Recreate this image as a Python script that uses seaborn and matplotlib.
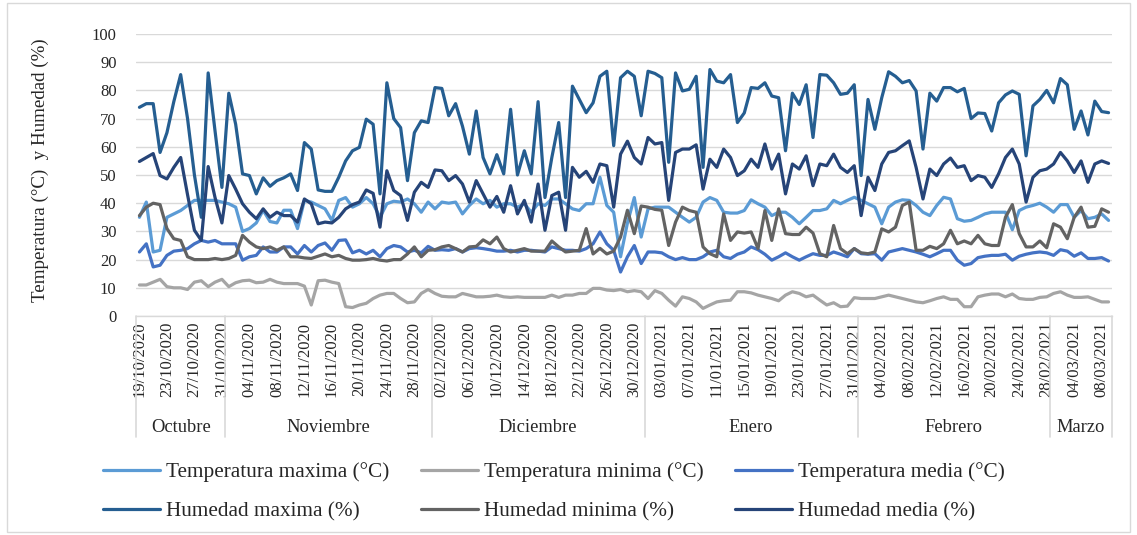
import numpy as np
import pandas as pd
import matplotlib
matplotlib.use("Agg")
import matplotlib.pyplot as plt
import seaborn as sns
from matplotlib.patches import Rectangle
from matplotlib.transforms import blended_transform_factory

# Daily records, 19/10/2020 - 09/03/2021
fechas = pd.date_range("2020-10-19", "2021-03-09", freq="D")
meses = ["Octubre", "Noviembre", "Diciembre", "Enero", "Febrero", "Marzo"]

temp_maxima = [
    35, 40.4, 22.7, 23.3, 35, 36.2, 37.4, 39.2, 41, 41, 41, 41, 40.4, 39.8, 38.6, 30, 31, 33, 37.5, 33.5, 33, 37.5, 37.5, 31,
    41, 40.4, 39.2, 38, 33.9, 41, 42, 38.6, 39.8, 42, 39.8, 35, 39.8, 40.7, 40.4, 41.5, 39.8, 36.8, 40.4, 38, 40.4, 40,
    40.4, 36.2, 39.2, 41.5, 39.8, 41, 38.6, 39.8, 39.8, 38.6, 39.8, 36.8, 39.8, 39.2, 41.5, 41.5, 39.8, 38, 37.4, 39.8, 39.8, 49.2, 39.2, 36.8, 21,
    33, 42, 28, 38, 38.6, 38.6, 38.6, 36.8, 35, 33.3, 35, 40.4, 42, 41, 36.8, 36.5, 36.5, 37.4, 41.2, 39.8, 38.6, 35.6, 36.8,
    36.8, 35, 32.7, 35, 37.4, 37.4, 38, 41, 39.8, 41, 42.1, 41, 39.8, 38.6, 32.7, 38.6, 40.4, 41.2, 41, 39.2, 36.8, 35.6, 39.2, 42.1,
    41.5, 34.5, 33.6, 33.9, 35, 36.2, 36.8, 36.8, 36.8, 30.6, 37.4, 38.6, 39.2, 40, 38.6, 36.8, 39.5, 39.5, 35, 37.4, 34.5, 35, 36.2, 33.9,
]
temp_minima = [
    11, 11, 12, 13, 10.4, 10, 10, 9.4, 12, 12.5, 10.4, 12, 13, 10.4, 11.8, 12.5, 12.7, 11.8, 12, 13, 12, 11.5, 11.5, 11.5,
    10.6, 3.9, 12.5, 12.7, 12, 11.5, 3.3, 3, 3.9, 4.5, 6.2, 7.4, 8, 8, 6.2, 4.7, 5, 8, 9.4, 8, 7, 6.8,
    6.8, 8, 7.4, 6.8, 6.8, 7, 7.4, 6.8, 6.6, 6.8, 6.6, 6.6, 6.6, 6.6, 7.4, 6.6, 7.4, 7.4, 8, 8, 9.8, 9.8, 9.2, 9, 9.4,
    8.6, 9, 8.6, 6.2, 9, 8, 5.6, 3.5, 6.8, 6.2, 5, 2.7, 3.9, 5, 5.4, 5.6, 8.6, 8.6, 8.2, 7.4, 6.8, 6.2, 5.4,
    7.4, 8.6, 8, 6.8, 7.4, 5.6, 3.9, 4.7, 3.3, 3.5, 6.5, 6.2, 6.2, 6.2, 6.8, 7.4, 6.8, 6.2, 5.6, 5, 4.7, 5.4, 6.2, 6.8,
    5.9, 5.9, 3.3, 3.3, 6.8, 7.4, 7.8, 7.8, 6.8, 7.8, 6.2, 5.9, 5.9, 6.6, 6.8, 8, 8.6, 7.4, 6.6, 6.6, 6.8, 5.9, 5, 5,
]
temp_media = [
    22.7, 25.6, 17.4, 18, 21.5, 23, 23.3, 23.9, 25.6, 26.8, 26.2, 26.8, 25.6, 25.6, 25.6, 19.8, 21, 21.5, 24.5, 22.7, 22.7, 24.5, 24.5, 22,
    25, 22.7, 25, 25.9, 23.3, 26.8, 27, 22.4, 23.3, 22, 23.3, 21, 23.9, 25, 24.5, 22.7, 23.3, 22.4, 24.7, 23.3, 23.5, 23.3,
    23.9, 22.7, 23.9, 24.2, 23.9, 23.5, 23, 23, 23.3, 22.7, 23.3, 23.3, 23, 22.7, 24.5, 23.9, 23.3, 23.3, 23, 23.9, 25.6, 29.8, 25.6, 23.3, 15.6,
    21, 25, 18.6, 22.7, 22.7, 22.4, 21, 20, 20.7, 20, 20, 21, 22.7, 23.3, 21, 20.4, 21.9, 22.7, 24.5, 23.5, 21.9, 19.8, 21,
    22.4, 21, 19.8, 21, 22.1, 21.5, 21.5, 22.7, 21.9, 21, 23.9, 22.1, 21.9, 22.1, 19.8, 22.7, 23.3, 23.9, 23.3, 22.7, 21.9, 21, 22.1, 23.3,
    23.3, 19.8, 18, 18.6, 20.7, 21.2, 21.5, 21.5, 21.9, 19.8, 21.2, 21.9, 22.4, 22.7, 22.4, 21.5, 23.5, 23, 21.2, 22.4, 20.4, 20.4, 20.7, 19.5,
]
humedad_maxima = [
    74, 75.3, 75.3, 58, 65, 76, 85.6, 70, 50, 35, 86.2, 65.6, 45.6, 79, 68, 50.4, 49.8, 43.3, 49, 46, 48, 49, 50.4, 44.5,
    61.5, 59.2, 44.7, 44.2, 44.2, 49.2, 55, 58.6, 59.8, 69.8, 68, 43.3, 82.7, 70, 66.8, 48, 65, 69.2, 68.6, 81, 80.7, 71,
    75.3, 67.3, 57.4, 72.7, 56.2, 50.4, 57.2, 50.4, 73.3, 50, 58.6, 50.4, 76, 42, 56.2, 68.6, 42, 81.5, 76.8, 72.1, 75.6, 85, 86.8, 60.4, 84.5,
    86.8, 85, 71, 86.8, 86, 84.5, 54.5, 86.2, 79.8, 80.4, 85, 52.7, 87.4, 83.3, 82.7, 85.6, 68.6, 72, 81, 80.7, 82.7, 78, 77.4,
    58.6, 79, 75, 82, 63.3, 85.6, 85.4, 82.7, 78.6, 79, 82, 49.8, 76.8, 66.2, 77.4, 86.6, 85, 82.7, 83.5, 79.8, 59.2, 79, 76.2, 81,
    81, 79.5, 80.7, 70, 72, 71.8, 65.6, 75.6, 78.4, 79.8, 78.6, 56.8, 74.5, 76.8, 80, 75.6, 84.2, 82, 66.2, 72.7, 64.2, 76.2, 72.5, 72.1,
]
humedad_minima = [
    35.6, 38.6, 40, 39.5, 31, 27.4, 26.8, 21, 20, 20, 20, 20.4, 20, 20.4, 21.5, 28.6, 26.2, 24.5, 23.9, 24.5, 23.3, 24.5, 21, 21,
    20.6, 20.4, 21.2, 22, 21, 21.5, 20.4, 19.8, 19.8, 20, 20.4, 19.8, 19.5, 20, 20, 22, 24.5, 21, 23.3, 23.5, 24.5, 25,
    23.9, 22.7, 24.5, 24.7, 27, 25.6, 28, 23.9, 22.7, 23.3, 23.9, 23, 23, 23, 26.6, 24.5, 22.7, 23, 23.3, 31, 22, 24, 22, 23, 28,
    37.5, 29.2, 39, 38.6, 37.8, 37.5, 25, 33.3, 38.6, 37.4, 36.8, 24.5, 22.1, 21, 36.2, 26.8, 29.8, 29.4, 29.8, 23.9, 37.4, 26.8, 38,
    29.2, 28.9, 28.9, 31.5, 29.4, 22.1, 21, 32.1, 23.9, 22.1, 23.9, 22.4, 22.1, 22.7, 30.9, 29.8, 31.5, 39.2, 40.4, 23.3, 23.3, 24.7, 23.9, 25.6,
    30.4, 25.6, 26.6, 25.6, 28.6, 25.6, 25, 25, 35, 39.5, 29.2, 24.5, 24.5, 26.6, 24.2, 32.7, 31.5, 27.4, 35, 38.6, 31.5, 31.8, 38, 36.8,
]
humedad_media = [
    54.8, 56.2, 57.6, 49.8, 48.6, 52.7, 56.2, 43, 30.4, 26.8, 53, 42, 33, 49.8, 45, 39.8, 36.8, 34.5, 38, 35, 36.8, 35.6, 35.6, 33.3,
    41.5, 39.8, 32.7, 33.3, 33, 35, 38, 39.5, 40.4, 44.7, 43.5, 31.5, 51.5, 44.5, 42.7, 33.9, 43.9, 47.4, 45.6, 51.8, 51.5, 48,
    49.8, 46.8, 40.4, 48, 43.3, 38.6, 42.4, 36.8, 46.2, 36.2, 41, 33.3, 46.8, 30.4, 42.7, 43.9, 30.4, 52.7, 49.2, 51.3, 47.4, 53.9, 53.3, 38.6, 57.4,
    62, 56.2, 53.9, 63.3, 61, 61.5, 41, 58, 59.2, 59.2, 60.7, 45, 55.6, 52.7, 59.2, 56.2, 49.8, 51.5, 55.6, 52.7, 61, 52.1, 57.4,
    43.3, 53.9, 52.1, 56.8, 46.2, 53.9, 53.3, 57.4, 52.7, 50.9, 53.3, 35.6, 49.2, 44.5, 53.9, 58, 58.6, 60.4, 62.1, 52.7, 41.5, 52.1, 49.8, 53.9,
    56, 52.7, 53.3, 48, 49.8, 49.2, 45.6, 50.4, 56.2, 59.2, 53.9, 40.4, 49.2, 51.5, 52.1, 53.9, 58, 55, 50.9, 55, 47.4, 53.9, 55, 54.1,
]

series = {
    "Temperatura maxima (°C)": temp_maxima,
    "Temperatura minima (°C)": temp_minima,
    "Temperatura media (°C)": temp_media,
    "Humedad maxima (%)": humedad_maxima,
    "Humedad minima (%)": humedad_minima,
    "Humedad media (%)": humedad_media,
}
colores = ["#5B9BD5", "#A5A5A5", "#4472C4", "#255E91", "#636363", "#264478"]

n = len(fechas)
df = pd.concat(
    [pd.DataFrame({"dia": np.arange(n), "valor": v, "serie": k}) for k, v in series.items()],
    ignore_index=True,
)

sns.set_theme(style="white")
plt.rcParams["font.family"] = ["Liberation Serif", "DejaVu Serif"]

W, H = 1137, 535
fig = plt.figure(figsize=(W / 100, H / 100), dpi=100)
ax = fig.add_axes([136 / W, 1 - 316 / H, (1112 - 136) / W, (316 - 34) / H])

sns.lineplot(
    data=df, x="dia", y="valor", hue="serie", hue_order=list(series.keys()),
    palette=colores, linewidth=2.3, errorbar=None, sort=False, ax=ax, legend=True,
)

ax.set_xlim(-0.5, n - 0.5)
ax.set_ylim(0, 100)
ax.set_yticks(np.arange(0, 101, 10))
ax.yaxis.grid(True, color="#D9D9D9", linewidth=1)
ax.set_axisbelow(True)
for s in ["top", "right", "left"]:
    ax.spines[s].set_visible(False)
ax.spines["bottom"].set_color("#D9D9D9")
ax.spines["bottom"].set_linewidth(1)

tick_pos = np.arange(0, n, 4)
ax.set_xticks(tick_pos)
ax.set_xticklabels([fechas[i].strftime("%d/%m/%Y") for i in tick_pos], rotation=90, fontsize=12, color="#262626")
ax.tick_params(axis="x", length=0, pad=4)
ax.tick_params(axis="y", length=0, pad=14, labelsize=12, labelcolor="#262626")
ax.set_xlabel("")
ax.set_ylabel("")

# month groups under the date labels
trans = blended_transform_factory(ax.transData, ax.transAxes)
mes_idx = (fechas.year - fechas.year.min()) * 12 + fechas.month
bordes = [-0.5]
centros = []
for m in pd.unique(mes_idx):
    idx = np.where(mes_idx == m)[0]
    centros.append((idx[0] + idx[-1]) / 2)
    bordes.append(idx[-1] + 0.5)
for b in bordes:
    ax.plot([b, b], [0, -0.43], transform=trans, color="#D9D9D9", linewidth=1.2, clip_on=False)
for c, nombre in zip(centros, meses):
    ax.text(c, -0.394, nombre, transform=trans, ha="center", va="center", fontsize=13.3, color="#262626")

fig.text(40 / W, 1 - 170 / H, "Temperatura (°C)  y Humedad (%)", rotation=90,
         ha="center", va="center", fontsize=13.7, color="#262626")

handles, labels = ax.get_legend_handles_labels()
ax.get_legend().remove()
orden = [0, 3, 1, 4, 2, 5]
fig.legend([handles[i] for i in orden], [labels[i] for i in orden], ncol=3,
           loc="center", bbox_to_anchor=(554 / W, 1 - 492 / H), frameon=False,
           fontsize=15.3, handlelength=2.7, handletextpad=0.3, columnspacing=1.45,
           labelspacing=0.9, labelcolor="#262626")

fig.patches.append(Rectangle((7 / W, 3 / H), (1130 - 7) / W, (532 - 3) / H, transform=fig.transFigure,
                             fill=False, edgecolor="#D9D9D9", linewidth=1))

fig.savefig("out.png", dpi=100)
